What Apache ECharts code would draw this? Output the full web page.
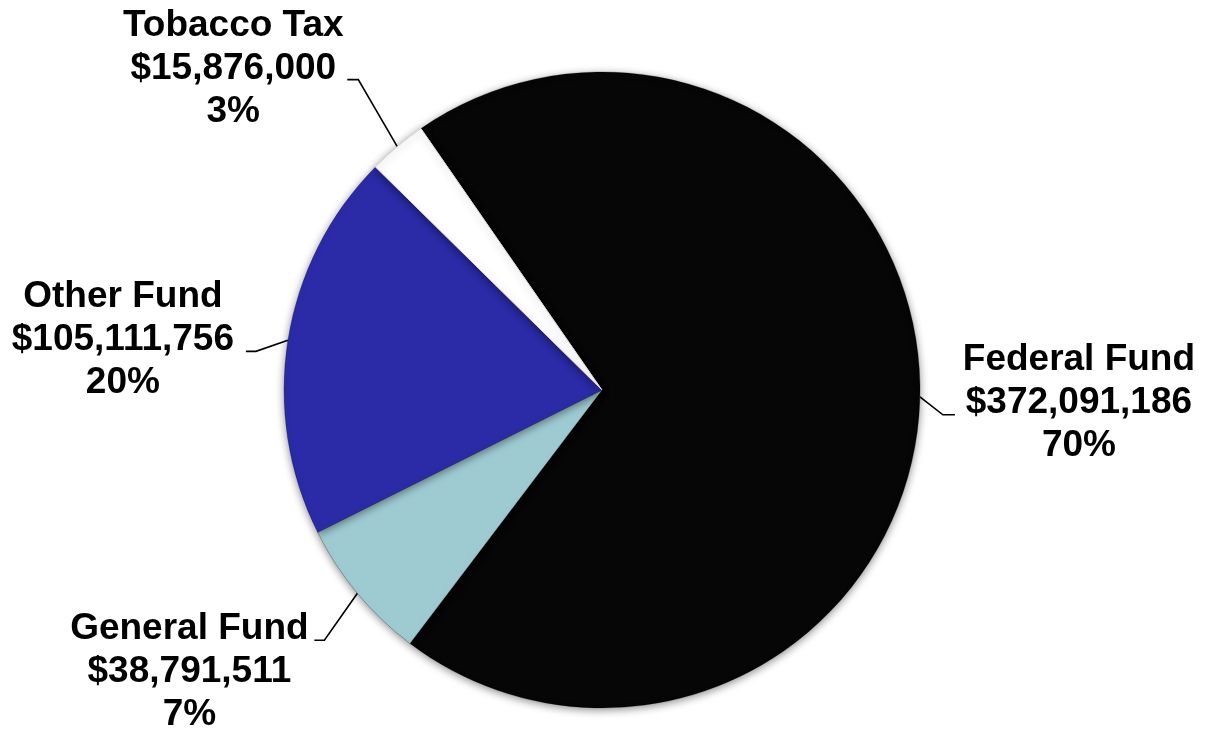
<!DOCTYPE html>
<html>
<head>
<meta charset="utf-8">
<script src="https://cdn.jsdelivr.net/npm/echarts@6/dist/echarts.min.js"></script>
<style>
html,body{margin:0;padding:0;background:#fff;}
#chart{width:1205px;height:730px;}
</style>
</head>
<body>
<div id="chart"></div>
<script>
const categories = ['Federal Fund', 'General Fund', 'Other Fund', 'Tobacco Tax'];
const amounts = [372091186, 38791511, 105111756, 15876000];
const amountLabels = ['$372,091,186', '$38,791,511', '$105,111,756', '$15,876,000'];
const percentLabels = ['70%', '7%', '20%', '3%'];
const colors = ['#060606', '#9ECBD1', '#2B2BA8', '#FFFFFF'];

// label offsets relative to the library-computed anchor on the rim
const labelStyle = [
  { line: [[23, 18], [35, 18]], pos: [159, 6] },
  { line: [[-33, 47], [-43, 47]], pos: [-168, 79] },
  { line: [[-32, 11], [-42, 11]], pos: [-165, -1] },
  { line: [[-39, -67], [-50, -67]], pos: [-164, -78] }
];

const chart = echarts.init(document.getElementById('chart'));
chart.setOption({
  backgroundColor: '#ffffff',
  animation: false,
  series: [{
    type: 'pie',
    center: [602, 390],
    radius: 318,
    startAngle: 124.7,
    clockwise: true,
    avoidLabelOverlap: false,
    data: categories.map((c, i) => ({
      name: c,
      value: amounts[i],
      itemStyle: {
        color: colors[i],
        borderColor: i === 3 ? '#d8d8d8' : 'rgba(0,0,0,0.25)',
        borderWidth: 1
      }
    })),
    itemStyle: {
      shadowBlur: 8,
      shadowColor: 'rgba(0,0,0,0.45)',
      shadowOffsetY: 2
    },
    label: {
      show: true,
      position: 'outside',
      formatter: p => categories[p.dataIndex] + '\n' + amountLabels[p.dataIndex] + '\n' + percentLabels[p.dataIndex],
      fontFamily: '"Liberation Sans", Arial, sans-serif',
      fontWeight: 'bold',
      fontSize: 37,
      lineHeight: 43,
      color: '#000'
    },
    labelLine: {
      show: true,
      length: 20,
      length2: 12,
      lineStyle: { color: '#000', width: 1.6 }
    },
    emphasis: { disabled: true },
    labelLayout: function (params) {
      const s = labelStyle[params.dataIndex];
      const pts = params.labelLinePoints;
      if (!pts) return {};
      const a = pts[0];
      return {
        x: a[0] + s.pos[0],
        y: a[1] + s.pos[1],
        align: 'center',
        verticalAlign: 'middle',
        labelLinePoints: [
          [a[0], a[1]],
          [a[0] + s.line[0][0], a[1] + s.line[0][1]],
          [a[0] + s.line[1][0], a[1] + s.line[1][1]]
        ]
      };
    }
  }]
});
</script>
</body>
</html>
